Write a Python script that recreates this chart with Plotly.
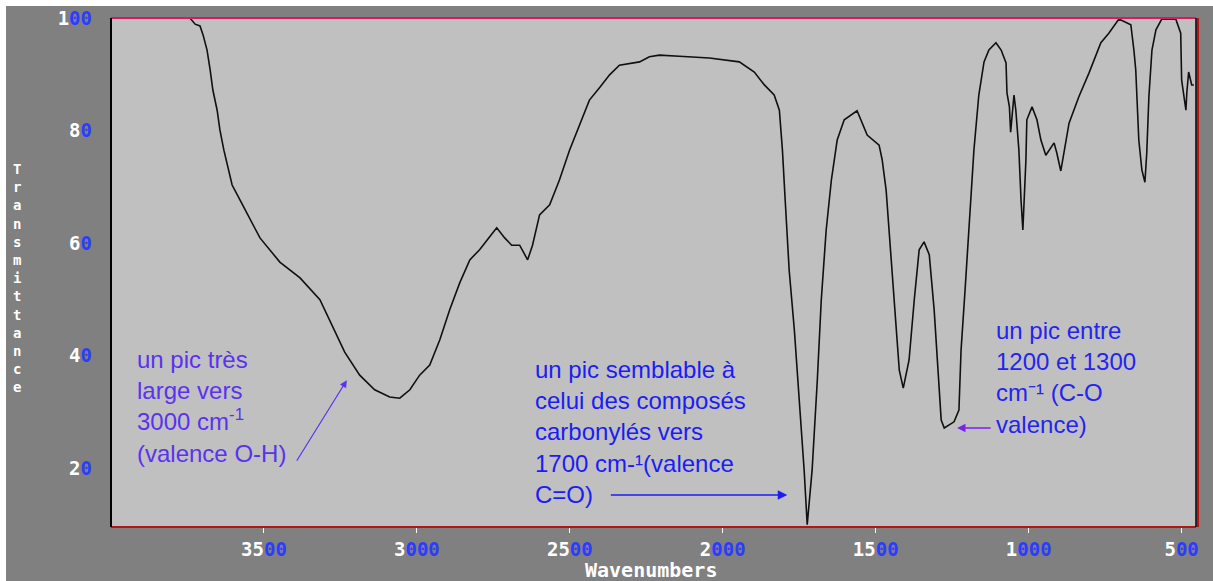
import plotly.graph_objects as go

# Spectrum data (wavenumber cm-1, transmittance %)
wavenumber = [4000, 3742, 3725, 3709, 3699, 3686, 3676, 3667, 3653, 3644, 3631, 3614, 3604,
              3578, 3513, 3448, 3382, 3317, 3285, 3236, 3187, 3138, 3089, 3056, 3023, 2991,
              2958, 2925, 2893, 2860, 2827, 2795, 2762, 2739, 2713, 2690, 2664, 2638, 2622,
              2599, 2566, 2534, 2501, 2468, 2436, 2403, 2370, 2338, 2272, 2240, 2207, 2142,
              2044, 1946, 1897, 1864, 1832, 1815, 1805, 1796, 1783, 1766, 1750, 1734, 1724,
              1708, 1691, 1678, 1662, 1645, 1626, 1603, 1561, 1528, 1489, 1479, 1466, 1456,
              1440, 1423, 1410, 1391, 1374, 1358, 1342, 1325, 1309, 1293, 1286, 1276, 1244,
              1228, 1221, 1208, 1195, 1179, 1163, 1146, 1130, 1107, 1090, 1074, 1071, 1063,
              1059, 1048, 1042, 1032, 1025, 1019, 1009, 1006, 989, 973, 960, 944, 917, 908,
              895, 885, 868, 836, 803, 764, 738, 705, 666, 656, 650, 640, 630, 620, 614, 607,
              597, 584, 565, 519, 503, 500, 486, 483, 477, 467, 460]
transmittance = [100, 100, 98.9, 98.6, 97.0, 94.3, 90.8, 87.2, 83.6, 80.1, 76.5, 72.9, 70.3,
                 67.6, 60.9, 56.6, 53.8, 49.9, 46.3, 40.6, 36.5, 33.9, 32.6, 32.4, 33.9, 36.5,
                 38.3, 42.8, 48.1, 52.9, 57.0, 58.8, 61.1, 62.7, 60.9, 59.6, 59.6, 57.0, 59.6,
                 65.0, 66.8, 71.2, 76.5, 81.0, 85.4, 87.6, 89.9, 91.6, 92.2, 93.1, 93.4, 93.2,
                 92.9, 92.2, 90.4, 88.1, 86.3, 83.6, 76.5, 67.6, 55.2, 44.5, 32.1, 19.6, 9.9,
                 19.6, 35.6, 49.9, 62.3, 71.2, 78.3, 81.9, 83.5, 79.2, 77.4, 74.8, 69.4, 62.3,
                 49.9, 37.4, 34.2, 39.2, 49.9, 58.8, 60.2, 57.9, 48.1, 35.6, 28.5, 27.1, 28.2,
                 30.3, 41.0, 51.6, 63.2, 76.5, 86.3, 92.2, 94.3, 95.6, 94.3, 92.0, 86.7, 84.2,
                 79.7, 86.3, 83.6, 76.5, 67.6, 62.3, 74.8, 81.9, 84.2, 81.9, 78.3, 75.6, 77.8, 76.0,
                 72.8, 76.0, 81.3, 86.0, 90.2, 95.6, 97.3, 99.8, 98.8, 94.3, 90.8, 78.3, 73.0, 70.8,
                 76.0, 86.0, 94.3, 97.9, 99.8, 99.8, 97.3, 89.0, 83.6, 86.7, 90.4, 88.1, 88.1]

x_ticks = [3500, 3000, 2500, 2000, 1500, 1000, 500]
y_ticks = [20, 40, 60, 80, 100]

ZERO = "<span style='color:#2a3cff'>0</span>"


def tick_label(v):
    return "".join(ZERO if c == "0" else c for c in str(v))


fig = go.Figure()
fig.add_trace(go.Scatter(x=wavenumber, y=transmittance, mode="lines",
                         line=dict(color="#101010", width=1.6), hoverinfo="skip",
                         showlegend=False))

tickfont = dict(family="DejaVu Sans Mono", size=19, color="white", weight="bold")

fig.update_layout(
    width=1213, height=581,
    margin=dict(l=111, r=17, t=18, b=54, autoexpand=False),
    paper_bgcolor="#808080",
    plot_bgcolor="#c0c0c0",
    showlegend=False,
    xaxis=dict(range=[4000, 453], showgrid=False, zeroline=False, automargin=False,
               tickvals=x_ticks, ticktext=[tick_label(v) for v in x_ticks],
               ticks="outside", ticklen=5, tickcolor="white", tickwidth=1,
               tickfont=tickfont, showline=False),
    yaxis=dict(range=[9.5, 100], showgrid=False, zeroline=False, automargin=False,
               tickvals=y_ticks, ticktext=[tick_label(v) for v in y_ticks],
               ticks="", tickfont=tickfont, ticklabelstandoff=18, showline=False),
)

W, H = 1085.0, 509.0


def px(xp):
    return (xp - 111) / W


def py(yp):
    return (527 - yp) / H


shapes = [
    # white strips at top and left edges of the picture
    dict(type="rect", xref="paper", yref="paper", x0=px(0), x1=px(1213), y0=py(6), y1=py(0),
         fillcolor="white", line=dict(width=0), layer="below"),
    dict(type="rect", xref="paper", yref="paper", x0=px(0), x1=px(6), y0=py(581), y1=py(0),
         fillcolor="white", line=dict(width=0), layer="below"),
    # frame
    dict(type="line", xref="paper", yref="paper", x0=0, x1=1, y0=1, y1=1,
         line=dict(color="#d81b60", width=2)),
    dict(type="line", xref="paper", yref="paper", x0=0, x1=1, y0=0, y1=0,
         line=dict(color="#b01818", width=2)),
    dict(type="line", xref="paper", yref="paper", x0=0, x1=0, y0=0, y1=1,
         line=dict(color="black", width=2)),
    dict(type="line", xref="paper", yref="paper", x0=1, x1=1, y0=0, y1=1,
         line=dict(color="black", width=1.5)),
    dict(type="line", xref="paper", yref="paper", x0=px(1198), x1=px(1198), y0=0, y1=1,
         line=dict(color="#c01010", width=2)),
]
fig.update_layout(shapes=shapes)

label_font = dict(family="DejaVu Sans Mono", color="white", weight="bold")
fig.add_annotation(xref="paper", yref="paper", x=px(17), y=py(278),
                   text="<br>".join("Transmittance"), showarrow=False,
                   xanchor="center", yanchor="middle",
                   font=dict(size=14, **label_font))
fig.add_annotation(xref="paper", yref="paper", x=px(651), y=py(570),
                   text="Wavenumbers", showarrow=False,
                   xanchor="center", yanchor="middle",
                   font=dict(size=20, **label_font))

note_font = "Liberation Sans"
fig.add_annotation(x=3922, y=31.0, xanchor="left", yanchor="middle", align="left",
                   text="un pic très<br>large vers<br>3000 cm<sup>-1</sup><br>(valence O-H)",
                   showarrow=False, font=dict(family=note_font, size=24, color="#5a32f0"))
fig.add_annotation(x=2620, y=26.4, xanchor="left", yanchor="middle", align="left",
                   text="un pic semblable à<br>celui des composés<br>carbonylés vers<br>1700 cm-¹(valence<br>C=O)",
                   showarrow=False, font=dict(family=note_font, size=24, color="#1c1cf5"))
fig.add_annotation(x=1113, y=36.1, xanchor="left", yanchor="middle", align="left",
                   text="un pic entre<br>1200 et 1300<br>cm⁻¹ (C-O<br>valence)",
                   showarrow=False, font=dict(family=note_font, size=24, color="#2424f0"))

# arrows
fig.add_annotation(x=3229, y=35.6, ax=-51, ay=82, text="", showarrow=True,
                   arrowhead=2, arrowsize=1.2, arrowwidth=1.2, arrowcolor="#5a32f0")
fig.add_annotation(x=1789, y=15.2, ax=-178, ay=0, text="", showarrow=True,
                   arrowhead=2, arrowsize=1.2, arrowwidth=1.6, arrowcolor="#1c1cf5")
fig.add_annotation(x=1234, y=27.1, ax=35, ay=0, text="", showarrow=True,
                   arrowhead=2, arrowsize=1.2, arrowwidth=1.4, arrowcolor="#7a22ee")

fig.write_html("out.html")
